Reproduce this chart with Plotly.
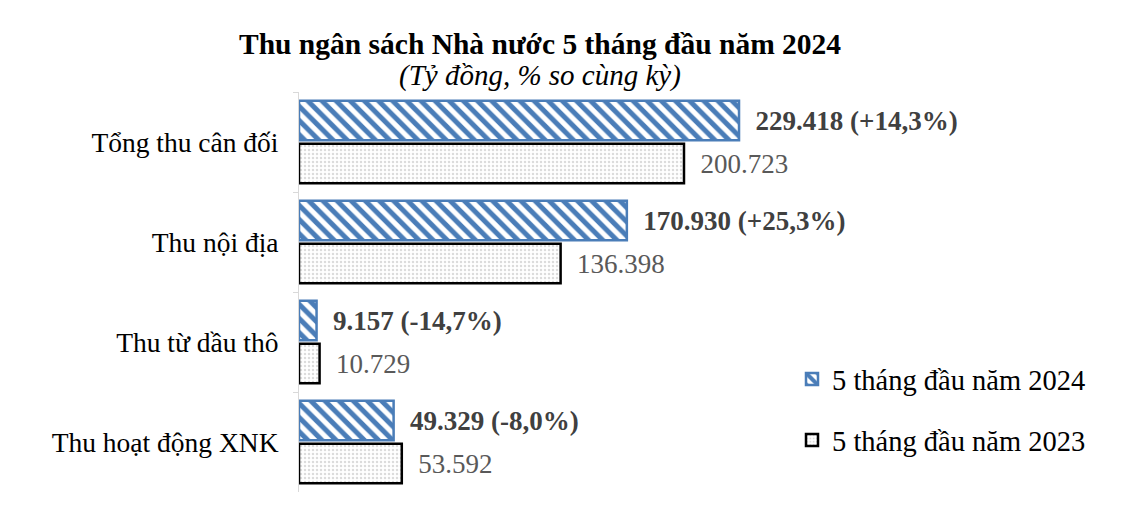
import plotly.graph_objects as go

categories = ["Tổng thu cân đối", "Thu nội địa", "Thu từ dầu thô", "Thu hoạt động XNK"]
values_2024 = [229418, 170930, 9157, 49329]
pct_2024 = ["+14,3%", "+25,3%", "-14,7%", "-8,0%"]
values_2023 = [200723, 136398, 10729, 53592]
series_names = ["5 tháng đầu năm 2024", "5 tháng đầu năm 2023"]
title_text = "Thu ngân sách Nhà nước 5 tháng đầu năm 2024"
subtitle_text = "(Tỷ đồng, % so cùng kỳ)"


def vn(n):
    return f"{n:,}".replace(",", ".")


GAP = "\u00a0\u00a0"
text_2024 = [f"{GAP}<b>{vn(v)} ({p})</b>" for v, p in zip(values_2024, pct_2024)]
text_2023 = [f"{GAP}{vn(v)}" for v in values_2023]

SERIF = "Liberation Serif, Times New Roman, serif"
BLUE = "#4A7DB8"

fig = go.Figure()
fig.add_trace(go.Bar(
    y=categories, x=values_2024, orientation="h", name=series_names[0],
    legendgroup="a",
    text=text_2024, textposition="outside", cliponaxis=False,
    textfont=dict(family=SERIF, size=27, color="#404040"),
    marker=dict(color="white", line=dict(color=BLUE, width=2.5),
                pattern=dict(shape="\\", fgcolor=BLUE, bgcolor="white",
                             fgopacity=1, size=10, solidity=0.5, fillmode="overlay")),
))
fig.add_trace(go.Bar(
    y=categories, x=values_2023, orientation="h", name=series_names[1],
    legendgroup="b",
    text=text_2023, textposition="outside", cliponaxis=False,
    textfont=dict(family=SERIF, size=27, color="#595959"),
    marker=dict(color="white", line=dict(color="black", width=2.5),
                pattern=dict(shape=".", fgcolor="#b8b8b8", bgcolor="white",
                             fgopacity=0.5, size=4, solidity=0.3, fillmode="overlay")),
))

fig.add_annotation(text=f"<b>{title_text}</b>", xref="paper", yref="paper",
                   x=(540 - 299) / 801, y=1 + (92 - 44) / 400, xanchor="center", yanchor="middle",
                   showarrow=False, font=dict(family=SERIF, size=29.5, color="black"))
fig.add_annotation(text=f"<i>{subtitle_text}</i>", xref="paper", yref="paper",
                   x=(540 - 299) / 801, y=1 + (92 - 75) / 400, xanchor="center", yanchor="middle",
                   showarrow=False, font=dict(family=SERIF, size=29, color="black"))

fig.update_layout(
    width=1134, height=509,
    margin=dict(l=299, r=34, t=92, b=17),
    paper_bgcolor="white", plot_bgcolor="white",
    barmode="group", bargap=0.14, bargroupgap=0.08,
    font=dict(family=SERIF, size=27, color="black"),
    xaxis=dict(range=[0, 801 / 1.918 * 1000], visible=False, fixedrange=True),
    yaxis=dict(
        autorange="reversed", showline=True, linecolor="#d9d9d9", linewidth=1,
        ticks="outside", tickson="boundaries", ticklen=5, tickcolor="#d9d9d9",
        ticklabelstandoff=14,
        tickfont=dict(family=SERIF, size=27.5, color="black"),
        showgrid=False, zeroline=False,
    ),
    legend=dict(
        x=(792 - 299) / 801, xanchor="left",
        y=(492 - 354) / 400, yanchor="top",
        traceorder="grouped", tracegroupgap=21,
        font=dict(family=SERIF, size=28.5, color="black"),
        itemwidth=30, bgcolor="rgba(0,0,0,0)",
    ),
    showlegend=True,
)

fig.write_html("out.html")
